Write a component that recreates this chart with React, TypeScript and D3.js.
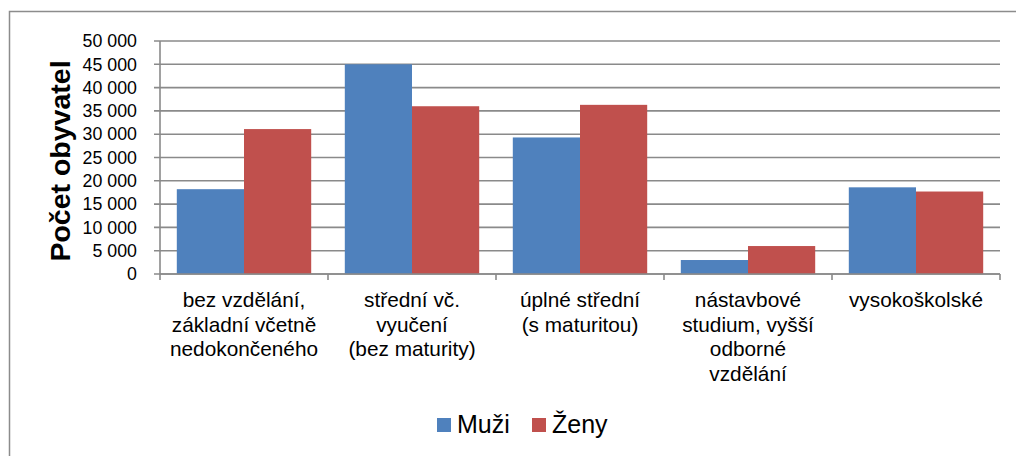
import React from "react";
import * as d3 from "d3";

const categories: string[][] = [
  ["bez vzdělání,", "základní včetně", "nedokončeného"],
  ["střední vč.", "vyučení", "(bez maturity)"],
  ["úplné střední", "(s maturitou)"],
  ["nástavbové", "studium, vyšší", "odborné", "vzdělání"],
  ["vysokoškolské"],
];
const muzi: number[] = [18200, 45000, 29300, 3000, 18600];
const zeny: number[] = [31100, 36000, 36300, 6000, 17700];
const seriesNames = ["Muži", "Ženy"];
const seriesColors = ["#4F81BD", "#C0504D"];
const yTicks: number[] = [0, 5000, 10000, 15000, 20000, 25000, 30000, 35000, 40000, 45000, 50000];
const yTitle = "Počet obyvatel";

const W = 1016;
const H = 456;
const plot = { left: 160, right: 1000, top: 41, bottom: 274 };
const font = "'Liberation Sans', Arial, sans-serif";
const gridColor = "#8a8a8a";

const fmt = (v: number) => {
  const s = String(v);
  return s.replace(/\B(?=(\d{3})+(?!\d))/g, " ");
};

export default function App() {
  const idx = categories.map((_, i) => String(i));
  const x0 = d3.scaleBand<string>().domain(idx).range([plot.left, plot.right]).paddingInner(0).paddingOuter(0);
  // bar group takes 2 bars, gap = half a bar width -> group fraction 2/2.5
  const groupW = (x0.bandwidth() * 2) / 2.5;
  const x1 = d3.scaleBand<string>().domain(["0", "1"]).range([0, groupW]).padding(0);
  const y = d3.scaleLinear().domain([0, 50000]).range([plot.bottom, plot.top]);
  const series = [muzi, zeny];

  return (
    <svg width={W} height={H} style={{ display: "block", position: "absolute", left: 0, top: 0 }} fontFamily={font}>
      <rect x={0} y={0} width={W} height={H} fill="#fff" />
      <rect x={9.5} y={11.5} width={1030} height={470} fill="none" stroke="#8c8c8c" strokeWidth={1.5} />
      {/* gridlines */}
      {yTicks.map((t) => (
        <line key={"g" + t} x1={plot.left - 6} x2={plot.right} y1={y(t)} y2={y(t)} stroke={gridColor} strokeWidth={1.6} />
      ))}
      {/* y axis */}
      <line x1={plot.left} x2={plot.left} y1={plot.top} y2={plot.bottom} stroke={gridColor} strokeWidth={1.6} />
      {yTicks.map((t) => (
        <text key={"t" + t} x={137} y={y(t)} dy="0.35em" textAnchor="end" fontSize={17.8} fill="#000">
          {fmt(t)}
        </text>
      ))}
      {/* bars */}
      {idx.map((c, i) => {
        const gx = (x0(c) as number) + (x0.bandwidth() - groupW) / 2;
        return series.map((s, k) => (
          <rect
            key={c + "-" + k}
            x={gx + (x1(String(k)) as number)}
            y={y(s[i])}
            width={x1.bandwidth()}
            height={plot.bottom - y(s[i])}
            fill={seriesColors[k]}
          />
        ));
      })}
      {/* x axis */}
      <line x1={plot.left} x2={plot.right} y1={plot.bottom} y2={plot.bottom} stroke={gridColor} strokeWidth={1.6} />
      {d3.range(categories.length + 1).map((i) => {
        const xx = plot.left + i * x0.bandwidth();
        return <line key={"xt" + i} x1={xx} x2={xx} y1={plot.bottom} y2={plot.bottom + 6} stroke={gridColor} strokeWidth={1.6} />;
      })}
      {categories.map((lines, i) => {
        const cx = (x0(String(i)) as number) + x0.bandwidth() / 2;
        return (
          <text key={"c" + i} x={cx} y={307} textAnchor="middle" fontSize={20.8} fill="#000">
            {lines.map((l, j) => (
              <tspan key={j} x={cx} y={307 + j * 24.5}>
                {l}
              </tspan>
            ))}
          </text>
        );
      })}
      {/* y title */}
      <text
        transform={`translate(70,161) rotate(-90)`}
        textAnchor="middle"
        fontSize={28.5}
        fontWeight="bold"
        fill="#000"
      >
        {yTitle}
      </text>
      {/* legend */}
      {seriesNames.map((n, k) => {
        const lx = [437, 532][k];
        return (
          <g key={"l" + k}>
            <rect x={lx} y={418} width={14} height={14} fill={seriesColors[k]} />
            <text x={lx + 20} y={433} fontSize={25} fill="#000">
              {n}
            </text>
          </g>
        );
      })}
    </svg>
  );
}
